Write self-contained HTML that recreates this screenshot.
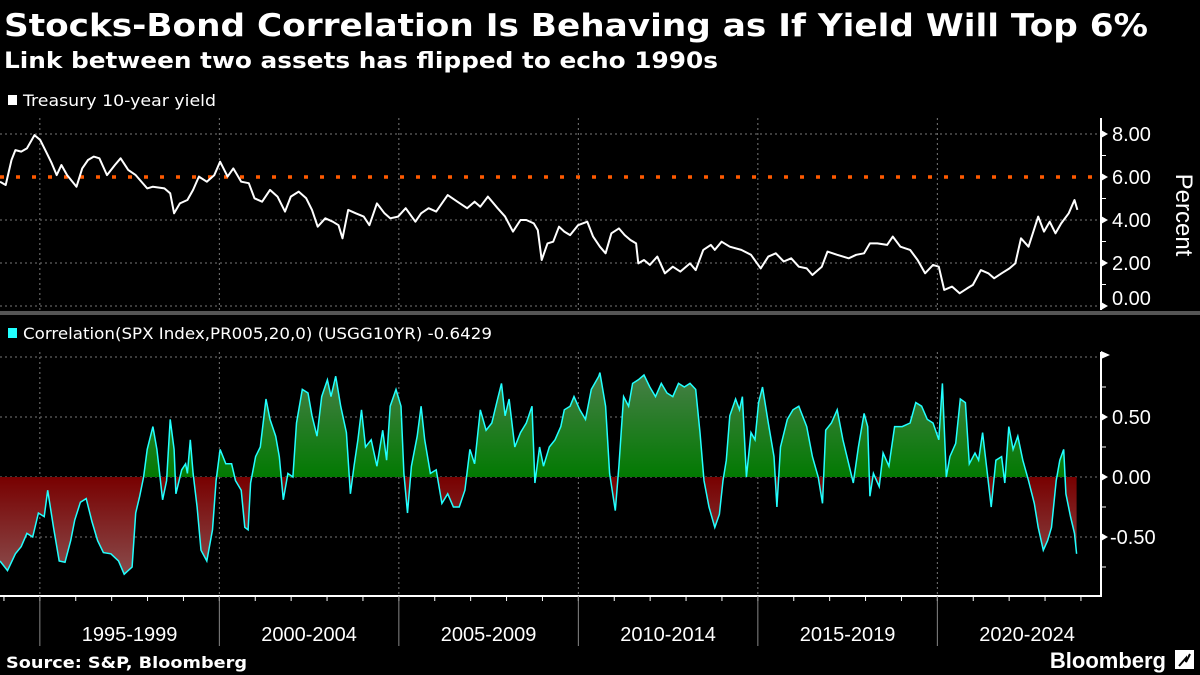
<!DOCTYPE html>
<html><head><meta charset="utf-8">
<style>
body{margin:0;background:#000;width:1200px;height:675px;overflow:hidden;font-family:"Liberation Sans",sans-serif;color:#fff}
svg{display:block}
.dv{font-family:"DejaVu Sans","Liberation Sans",sans-serif}
</style></head>
<body>
<svg id="chart" width="1200" height="675" viewBox="0 0 1200 675">
<defs>
<linearGradient id="gpos" x1="0" y1="357" x2="0" y2="477" gradientUnits="userSpaceOnUse"><stop offset="0" stop-color="#527f52"/><stop offset="1" stop-color="#027a02"/></linearGradient>
<linearGradient id="gneg" x1="0" y1="477" x2="0" y2="590" gradientUnits="userSpaceOnUse"><stop offset="0" stop-color="#780000"/><stop offset="1" stop-color="#8c5858"/></linearGradient>
<clipPath id="cpos"><rect x="0" y="340" width="1101" height="137"/></clipPath>
<clipPath id="cneg"><rect x="0" y="477" width="1101" height="120"/></clipPath>
</defs>
<text class="dv" x="4" y="36" font-size="31" font-weight="bold" fill="#fff" textLength="1144" lengthAdjust="spacingAndGlyphs">Stocks-Bond Correlation Is Behaving as If Yield Will Top 6%</text>
<text class="dv" x="4" y="68" font-size="22" font-weight="bold" fill="#fff" textLength="714" lengthAdjust="spacingAndGlyphs">Link between two assets has flipped to echo 1990s</text>
<g><rect x="8" y="95" width="9" height="10" fill="#fff"/><text class="dv" x="23" y="106" font-size="16" fill="#fff" textLength="193" lengthAdjust="spacingAndGlyphs">Treasury 10-year yield</text></g>
<g><rect x="8" y="328" width="9" height="10" fill="#2ff"/><text class="dv" x="23" y="339" font-size="16" fill="#fff" textLength="469" lengthAdjust="spacingAndGlyphs">Correlation(SPX Index,PR005,20,0) (USGG10YR) -0.6429</text></g>
<rect x="0" y="311" width="1200" height="4" fill="#555"/>
<g id="grid"></g>
<g id="bottomPanel"></g>
<g id="topPanel"></g>
<g id="axes"></g>
<text class="dv" x="6" y="668" font-size="16" font-weight="bold" fill="#fff" textLength="241" lengthAdjust="spacingAndGlyphs">Source: S&amp;P, Bloomberg</text>
<text x="1166" y="668" font-size="22" font-weight="bold" fill="#fff" text-anchor="end">Bloomberg</text>
<g><rect x="1175" y="650" width="19" height="19" fill="#fff"/><path d="M1179 666 L1186 658 L1186 662 L1190 654" stroke="#000" stroke-width="2" fill="none"/></g>
<text transform="translate(1176,215) rotate(90)" font-size="24" fill="#fff" text-anchor="middle">Percent</text>
</svg>
<script>
const yieldDates=[1993.89,1994.05,1994.21,1994.32,1994.48,1994.64,1994.85,1995.01,1995.17,1995.33,1995.47,1995.60,1995.76,1996.02,1996.18,1996.34,1996.50,1996.66,1996.87,1997.09,1997.25,1997.46,1997.67,1997.99,1998.15,1998.47,1998.63,1998.74,1998.90,1999.11,1999.27,1999.43,1999.65,1999.86,2000.02,2000.23,2000.39,2000.61,2000.82,2000.98,2001.19,2001.41,2001.62,2001.83,2001.99,2002.21,2002.42,2002.58,2002.74,2002.95,2003.16,2003.32,2003.43,2003.59,2003.80,2004.02,2004.18,2004.39,2004.60,2004.76,2004.98,2005.19,2005.46,2005.62,2005.83,2006.04,2006.36,2006.63,2006.90,2007.11,2007.27,2007.48,2007.75,2007.96,2008.18,2008.39,2008.55,2008.76,2008.87,2008.98,2009.14,2009.30,2009.46,2009.61,2009.77,2009.99,2010.25,2010.41,2010.60,2010.76,2010.92,2011.13,2011.29,2011.45,2011.61,2011.67,2011.83,2011.99,2012.20,2012.41,2012.63,2012.84,2013.11,2013.27,2013.48,2013.69,2013.80,2013.99,2014.22,2014.54,2014.81,2015.08,2015.29,2015.50,2015.72,2015.93,2016.14,2016.36,2016.52,2016.78,2016.94,2017.21,2017.53,2017.74,2017.96,2018.12,2018.33,2018.60,2018.76,2018.97,2019.24,2019.45,2019.66,2019.88,2020.04,2020.19,2020.41,2020.62,2020.83,2020.99,2021.21,2021.42,2021.58,2021.79,2022.01,2022.17,2022.33,2022.54,2022.81,2022.97,2023.13,2023.29,2023.45,2023.66,2023.82,2023.90];
const yieldValues=[5.78,5.63,6.79,7.25,7.18,7.33,7.95,7.72,7.18,6.64,6.09,6.56,6.09,5.55,6.40,6.79,6.95,6.87,6.09,6.56,6.87,6.33,6.09,5.47,5.55,5.47,5.24,4.31,4.77,4.93,5.40,6.02,5.78,6.09,6.71,6.02,6.40,5.78,5.71,5.01,4.85,5.40,5.09,4.39,5.09,5.32,5.01,4.47,3.69,4.08,3.92,3.76,3.15,4.47,4.31,4.16,3.76,4.77,4.31,4.08,4.16,4.55,3.92,4.31,4.55,4.39,5.16,4.85,4.55,4.85,4.62,5.09,4.55,4.16,3.46,4.00,4.00,3.84,3.53,2.14,2.91,2.99,3.69,3.46,3.30,3.76,3.92,3.23,2.76,2.45,3.38,3.61,3.30,3.07,2.91,1.98,2.14,1.91,2.30,1.52,1.83,1.60,1.98,1.67,2.61,2.84,2.61,2.99,2.76,2.61,2.38,1.75,2.30,2.45,2.07,2.22,1.83,1.75,1.44,1.83,2.53,2.38,2.22,2.38,2.45,2.91,2.91,2.84,3.23,2.76,2.61,2.14,1.52,1.91,1.83,0.75,0.90,0.59,0.82,0.98,1.67,1.52,1.29,1.52,1.75,1.98,3.15,2.76,4.16,3.46,3.92,3.38,3.84,4.31,4.93,4.47];
const thresholdValue=6;
const corrDates=[1993.89,1994.10,1994.32,1994.48,1994.64,1994.80,1994.96,1995.12,1995.22,1995.38,1995.54,1995.70,1995.86,1995.97,1996.13,1996.29,1996.45,1996.61,1996.77,1996.98,1997.19,1997.35,1997.57,1997.67,1997.78,1997.89,1997.99,1998.15,1998.26,1998.42,1998.53,1998.63,1998.74,1998.79,1998.95,1999.06,1999.11,1999.19,1999.27,1999.38,1999.49,1999.65,1999.81,1999.91,2000.02,2000.18,2000.34,2000.45,2000.61,2000.71,2000.80,2000.87,2001.01,2001.14,2001.30,2001.41,2001.57,2001.67,2001.78,2001.91,2002.05,2002.15,2002.31,2002.47,2002.58,2002.72,2002.85,2003.01,2003.11,2003.24,2003.38,2003.54,2003.65,2003.75,2003.86,2003.96,2004.07,2004.23,2004.39,2004.55,2004.66,2004.76,2004.92,2005.06,2005.14,2005.24,2005.35,2005.51,2005.62,2005.72,2005.88,2006.04,2006.20,2006.36,2006.52,2006.68,2006.84,2006.98,2007.11,2007.27,2007.43,2007.59,2007.75,2007.86,2007.96,2008.07,2008.23,2008.39,2008.55,2008.71,2008.79,2008.92,2009.03,2009.19,2009.35,2009.51,2009.61,2009.77,2009.88,2010.04,2010.20,2010.36,2010.57,2010.60,2010.76,2010.87,2011.03,2011.13,2011.26,2011.40,2011.51,2011.67,2011.83,2011.99,2012.15,2012.31,2012.47,2012.63,2012.79,2012.95,2013.11,2013.27,2013.39,2013.50,2013.64,2013.80,2013.93,2014.03,2014.12,2014.22,2014.38,2014.49,2014.57,2014.68,2014.81,2014.92,2015.02,2015.13,2015.29,2015.45,2015.53,2015.63,2015.82,2015.98,2016.14,2016.36,2016.52,2016.68,2016.80,2016.89,2017.05,2017.21,2017.37,2017.53,2017.66,2017.80,2017.96,2018.06,2018.12,2018.22,2018.38,2018.49,2018.65,2018.81,2019.02,2019.24,2019.40,2019.56,2019.72,2019.88,2020.04,2020.14,2020.25,2020.35,2020.51,2020.64,2020.78,2020.89,2021.05,2021.15,2021.26,2021.37,2021.50,2021.63,2021.79,2021.88,2021.99,2022.11,2022.24,2022.38,2022.54,2022.70,2022.81,2022.95,2023.07,2023.18,2023.31,2023.41,2023.52,2023.58,2023.71,2023.82,2023.88];
const corrValues=[-0.70,-0.78,-0.64,-0.58,-0.47,-0.50,-0.30,-0.33,-0.11,-0.42,-0.70,-0.71,-0.53,-0.36,-0.21,-0.18,-0.37,-0.53,-0.63,-0.64,-0.70,-0.81,-0.75,-0.30,-0.16,0,0.23,0.42,0.23,-0.19,-0.03,0.48,0.23,-0.14,0.06,0.11,0.03,0.31,0.03,-0.25,-0.61,-0.70,-0.44,-0.03,0.23,0.11,0.11,-0.03,-0.11,-0.42,-0.44,-0.05,0.17,0.25,0.65,0.48,0.34,0.17,-0.19,0.03,0,0.45,0.73,0.70,0.51,0.34,0.67,0.81,0.67,0.84,0.59,0.37,-0.14,0.09,0.31,0.56,0.25,0.31,0.09,0.39,0.14,0.59,0.73,0.59,0.03,-0.30,0.09,0.34,0.59,0.31,0.03,0.06,-0.22,-0.14,-0.25,-0.25,-0.11,0.23,0.11,0.56,0.39,0.45,0.65,0.78,0.51,0.65,0.25,0.37,0.45,0.59,-0.05,0.25,0.09,0.25,0.31,0.42,0.56,0.59,0.67,0.56,0.48,0.73,0.84,0.87,0.59,0.03,-0.28,0.09,0.67,0.59,0.78,0.81,0.85,0.75,0.67,0.78,0.70,0.67,0.78,0.75,0.78,0.73,0.37,-0.03,-0.25,-0.42,-0.31,-0.03,0.14,0.51,0.65,0.56,0.67,0,0.37,0.31,0.62,0.75,0.45,0.17,-0.25,0.25,0.48,0.56,0.59,0.42,0.17,0,-0.22,0.39,0.45,0.56,0.31,0.11,-0.05,0.25,0.53,0.42,-0.16,0.03,-0.08,0.20,0.09,0.42,0.42,0.45,0.62,0.59,0.48,0.45,0.31,0.78,0,0.17,0.28,0.65,0.62,0.11,0.20,0.14,0.37,0.09,-0.25,0.14,0.17,-0.05,0.42,0.23,0.34,0.14,-0.03,-0.22,-0.42,-0.61,-0.53,-0.42,-0.03,0.14,0.23,-0.14,-0.33,-0.47,-0.64];
const xTickYears=[1995,2000,2005,2010,2015,2020];
const xTickLabels=["1995-1999","2000-2004","2005-2009","2010-2014","2015-2019","2020-2024"];
const yieldTicks=[0,2,4,6,8];
const corrTicks=[-0.5,0,0.5];

const NS="http://www.w3.org/2000/svg";
const X0=0,X1=1101,Y0YEAR=1993.89,PXYR=35.9;
const xs=d=>X0+(d-Y0YEAR)*PXYR;
const yy=v=>306-v*21.5;
const yc=v=>477-v*120;
function mk(tag,attrs,parent){const e=document.createElementNS(NS,tag);for(const k in attrs)e.setAttribute(k,attrs[k]);parent.appendChild(e);return e;}
const grid=document.getElementById('grid'),top_=document.getElementById('topPanel'),bot=document.getElementById('bottomPanel'),axes=document.getElementById('axes');

[0,2,4,8].forEach(v=>{const l=mk('line',{x1:0,x2:X1,y1:yy(v),y2:yy(v),stroke:'#777','stroke-dasharray':'2,3','stroke-width':1},grid);

});
[-0.5,0,0.5,1].forEach(v=>{const l=mk('line',{x1:0,x2:X1,y1:yc(v),y2:yc(v),stroke:'#777','stroke-dasharray':'2,3','stroke-width':1},grid);

});
xTickYears.forEach(y=>{
 [[118,310],[352,596]].forEach(r=>{const l=mk('line',{x1:xs(y),x2:xs(y),y1:r[0],y2:r[1],stroke:'#777','stroke-dasharray':'2,3'},grid);
 
 });
});

const th=mk('line',{x1:0,x2:X1-8,y1:yy(thresholdValue),y2:yy(thresholdValue),stroke:'#ff5a00','stroke-width':3.5,'stroke-dasharray':'4,12'},top_);


let d='';yieldDates.forEach((t,i)=>{d+=(i?'L':'M')+xs(t).toFixed(1)+' '+yy(yieldValues[i]).toFixed(1);});
const yl=mk('path',{d:d,fill:'none',stroke:'#fff','stroke-width':2,'stroke-linejoin':'round'},top_);



let a='M'+xs(corrDates[0]).toFixed(1)+' '+yc(0);let ln='';
corrDates.forEach((t,i)=>{a+='L'+xs(t).toFixed(1)+' '+yc(corrValues[i]).toFixed(1);ln+=(i?'L':'M')+xs(t).toFixed(1)+' '+yc(corrValues[i]).toFixed(1);});
a+='L'+xs(corrDates[corrDates.length-1]).toFixed(1)+' '+yc(0)+'Z';
const ap=mk('path',{d:a,fill:'url(#gpos)','clip-path':'url(#cpos)'},bot);


const an=mk('path',{d:a,fill:'url(#gneg)','clip-path':'url(#cneg)'},bot);


const cl=mk('path',{d:ln,fill:'none',stroke:'#2ff','stroke-width':1.5},bot);



mk('line',{x1:X1,x2:X1,y1:118,y2:310,stroke:'#fff','stroke-width':2},axes);
mk('line',{x1:X1,x2:X1,y1:352,y2:597,stroke:'#fff','stroke-width':2},axes);
mk('line',{x1:0,x2:X1,y1:596,y2:596,stroke:'#fff','stroke-width':2},axes);
mk('path',{d:'M1101 351 L1110 355 L1101 359 Z',fill:'#fff'},axes);
[1,3,5,7].forEach(v=>mk('line',{x1:X1,x2:X1+5,y1:yy(v),y2:yy(v),stroke:'#fff'},axes));
[-0.75,-0.25,0.25,0.75].forEach(v=>mk('line',{x1:X1,x2:X1+5,y1:yc(v),y2:yc(v),stroke:'#fff'},axes));
yieldTicks.forEach(v=>{mk('path',{d:`M1101 ${yy(v)-4} L1108 ${yy(v)} L1101 ${yy(v)+4}Z`,fill:'#fff'},axes);
 const t=mk('text',{x:1112,y:(v===0?298:yy(v))+7,'font-size':20,fill:'#fff'},axes);t.textContent=v.toFixed(2);
 
 });
corrTicks.forEach(v=>{mk('path',{d:`M1101 ${yc(v)-4} L1108 ${yc(v)} L1101 ${yc(v)+4}Z`,fill:'#fff'},axes);
 const t=mk('text',{x:v<0?1110:1112,y:yc(v)+7,'font-size':20,fill:'#fff'},axes);t.textContent=v.toFixed(2);
 
 });
for(let y=1994;y<=2025;y++){const x=xs(y);if(x>X1)break;mk('line',{x1:x,x2:x,y1:596,y2:601,stroke:'#fff'},axes);}
xTickYears.forEach((y,i)=>{const x=xs(y);mk('line',{x1:x,x2:x,y1:596,y2:646,stroke:'#888','stroke-width':1},axes);
 const t=mk('text',{x:xs(y+2.5),y:641,'font-size':20,fill:'#fff','text-anchor':'middle'},axes);t.textContent=xTickLabels[i];
 
 });
</script>
</body></html>
